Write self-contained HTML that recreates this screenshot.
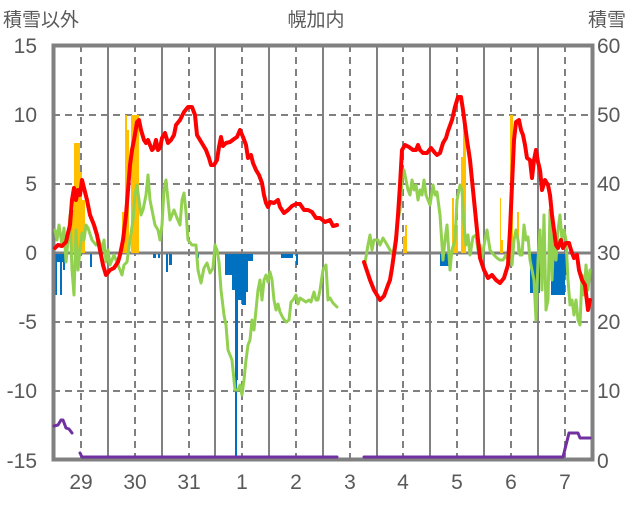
<!DOCTYPE html>
<html><head><meta charset="utf-8"><style>
body{margin:0;background:#fff;}
svg text{font-family:"Liberation Sans","Noto Sans CJK JP",sans-serif;fill:#595959;}
</style></head><body>
<svg width="636" height="501" viewBox="0 0 636 501" xmlns="http://www.w3.org/2000/svg">
<g font-size="19">
<text x="3" y="26">積雪以外</text>
<text x="316" y="26" text-anchor="middle">幌加内</text>
<text x="588" y="26">積雪</text>
</g>
<g font-size="21" text-anchor="end">
<text x="37" y="53">15</text><text x="37" y="122">10</text><text x="37" y="191">5</text>
<text x="37" y="260">0</text><text x="37" y="329">-5</text><text x="37" y="398">-10</text><text x="37" y="468">-15</text>
</g>
<g font-size="21">
<text x="597" y="53">60</text><text x="597" y="122">50</text><text x="597" y="191">40</text>
<text x="597" y="260">30</text><text x="597" y="329">20</text><text x="597" y="398">10</text><text x="597" y="468">0</text>
</g>
<g font-size="21" text-anchor="middle">
<text x="81" y="489">29</text><text x="135" y="489">30</text><text x="189" y="489">31</text><text x="242" y="489">1</text><text x="296" y="489">2</text>
<text x="350" y="489">3</text><text x="403" y="489">4</text><text x="457" y="489">5</text><text x="511" y="489">6</text><text x="565" y="489">7</text>
</g>
<g stroke="#808080" stroke-width="2" stroke-dasharray="7,5" fill="none">
<path d="M53 115H593M53 184H593M53 322H593M53 391H593"/>
<path d="M81 45V460M135 45V460M189 45V460M242 45V460M296 45V460M350 45V460M403 45V460M457 45V460M511 45V460M565 45V460"/>
</g>
<g stroke="#808080" stroke-width="2" fill="none">
<path d="M108 45V460M162 45V460M215 45V460M269 45V460M323 45V460M377 45V460M430 45V460M484 45V460M538 45V460"/>
</g>
<path d="M54 253H592" stroke="#808080" stroke-width="3"/>
<g fill="#FFC000">
<rect x="72" y="210" width="2" height="43"/><rect x="74" y="143" width="6" height="110"/><rect x="80" y="172" width="2" height="81"/><rect x="82" y="200" width="3" height="53"/>
<rect x="122" y="212" width="3" height="41"/><rect x="125" y="115" width="2" height="138"/><rect x="127" y="130" width="2" height="123"/><rect x="131" y="115" width="8" height="138"/>
<rect x="403" y="236" width="2" height="17"/><rect x="405" y="225" width="2" height="28"/>
<rect x="452" y="198" width="2" height="55"/><rect x="454" y="225" width="4" height="28"/><rect x="461" y="157" width="2" height="96"/><rect x="463" y="115" width="3" height="138"/>
<rect x="500" y="198" width="1" height="55"/><rect x="501" y="240" width="2" height="13"/><rect x="510" y="115" width="3" height="138"/><rect x="517" y="212" width="2" height="41"/>
</g>
<g fill="#0070C0">
<rect x="55" y="254" width="10" height="8"/><rect x="55" y="254" width="2" height="41"/><rect x="60" y="254" width="2" height="41"/><rect x="63" y="254" width="2" height="16"/>
<rect x="90" y="254" width="2" height="13"/><rect x="153" y="254" width="3" height="4"/><rect x="158" y="254" width="2" height="4"/><rect x="166" y="254" width="2" height="18"/><rect x="169" y="254" width="3" height="11"/><rect x="196" y="254" width="3" height="4"/>
<rect x="225" y="254" width="28" height="7"/><rect x="225" y="254" width="7" height="21"/><rect x="232" y="254" width="4" height="36"/><rect x="235" y="254" width="2" height="206"/><rect x="236" y="254" width="2" height="126"/><rect x="238" y="254" width="4" height="46"/><rect x="242" y="254" width="4" height="51"/><rect x="246" y="254" width="2" height="38"/>
<rect x="281" y="254" width="9" height="4"/><rect x="290" y="254" width="3" height="4"/><rect x="296" y="254" width="2" height="11"/>
<rect x="440" y="254" width="11" height="12"/><rect x="530" y="254" width="10" height="39"/><rect x="535" y="254" width="3" height="49"/><rect x="551" y="254" width="14" height="41"/><rect x="564" y="254" width="3" height="21"/>
</g>
<rect x="53.5" y="45.5" width="539" height="414" fill="none" stroke="#808080" stroke-width="4"/>
<g fill="none" stroke-linejoin="round" stroke-linecap="round">
<polyline stroke="#92D050" stroke-width="3" points="55,230 57,240 59,225 62,245 64,228 66,262 68,240 70,215 72,270 74,295 76,230 78,270 80,250 82,233 84,240 86,225 88,228 92,240 96,245 99,240 102,250 104,240 106,262 108,250 110,265 114,255 118,265 122,275 124,265 127,262 130,240 133,220 135,195 137,185 139,200 141,215 143,210 146,195 148,175 150,200 152,210 155,225 158,230 160,240 162,225 164,190 166,180 168,200 170,220 172,215 174,210 177,218 180,225 182,200 184,193 186,212 188,240 192,245 196,245 198,270 201,283 204,268 207,263 210,273 213,268 215,245 217,250 219,262 221,290 224,315 226,325 228,350 230,355 232,360 235,390 238,390 240,385 242,395 244,380 246,360 248,345 250,340 252,320 254,330 256,310 258,290 260,280 262,300 264,280 266,275 268,282 270,272 272,280 274,300 276,310 278,304 280,312 283,318 286,322 289,320 291,302 293,300 296,295 298,304 300,298 303,300 306,302 309,300 311,302 314,292 316,300 318,300 320,290 323,270 326,265 328,300 330,298 333,303 337,307"/>
<polyline stroke="#92D050" stroke-width="3" points="365,263 368,245 370,235 372,250 374,240 378,240 380,245 383,238 386,243 390,250 393,255 396,235 398,220 400,210 402,180 404,170 406,180 408,190 410,195 412,180 414,190 416,185 418,200 420,190 422,195 424,180 426,195 428,200 430,205 433,185 435,195 437,192 440,215 443,260 445,240 447,225 449,255 450,270 452,250 455,240 457,200 460,185 462,190 464,225 466,245 468,235 470,255 473,237 476,235 478,250 480,245 482,257 485,240 487,230 490,250 494,255 497,258 500,260 503,260 506,255 508,260 510,245 512,265 514,240 516,230 518,240 520,255 522,255 524,225 526,240 528,237 530,260 532,270 534,280 536,320 538,260 540,230 542,290 544,215 546,310 548,300 550,210 552,280 554,230 556,260 558,230 560,215 562,240 564,230 566,240 568,280 570,305 572,300 574,315 576,300 578,320 580,325 582,275 584,295 586,265 588,290 590,270"/>
<polyline stroke="#FF0000" stroke-width="4" points="55,248 58,245 62,246 66,242 68,233 70,225 72,200 74,188 76,200 78,190 80,195 82,180 84,188 87,200 90,215 94,225 97,235 100,250 103,265 106,275 110,270 114,268 118,262 120,255 123,240 126,215 128,190 130,165 132,150 134,140 137,122 139,120 141,130 144,140 146,143 148,140 150,145 152,150 154,148 156,140 158,150 160,148 162,138 165,133 168,143 171,140 174,135 176,125 180,120 184,112 188,107 192,107 195,115 197,135 200,140 203,145 206,150 209,158 211,165 214,165 217,160 219,147 221,137 223,146 226,143 230,142 234,139 237,137 240,130 243,137 246,145 248,158 251,155 253,163 256,170 259,175 262,183 264,195 266,203 268,207 270,202 274,203 278,200 280,207 284,213 288,210 292,206 296,204 300,204 304,210 308,210 312,212 316,218 320,218 325,222 330,220 333,226 337,225"/>
<polyline stroke="#FF0000" stroke-width="4" points="364,262 370,280 374,290 380,300 384,296 388,285 390,280 392,268 396,240 398,215 400,185 402,150 405,145 409,147 413,150 416,150 418,145 420,150 423,153 427,153 431,148 435,153 437,155 440,153 443,143 446,138 448,131 452,120 455,107 458,97 461,97 463,110 465,125 467,140 470,160 472,180 475,210 478,240 480,258 484,270 488,278 492,275 496,280 500,283 504,278 508,265 510,230 512,185 514,140 516,122 519,120 521,130 523,135 525,145 527,158 530,160 532,178 534,160 536,150 538,162 540,170 542,190 545,180 548,185 550,195 552,215 554,230 556,245 558,248 561,240 563,248 566,243 569,243 571,250 574,258 577,255 579,270 582,280 585,285 588,310 590,300"/>
<polyline stroke="#7030A0" stroke-width="3" points="54,426 58,425 61,420 63,420 66,428 69,429 72,433"/>
<polyline stroke="#7030A0" stroke-width="3" points="80,453 82,457 337,457"/>
<polyline stroke="#7030A0" stroke-width="3" points="364,457 563,457 566,445 569,433 578,433 580,438 590,438"/>
</g>
</svg>
</body></html>
